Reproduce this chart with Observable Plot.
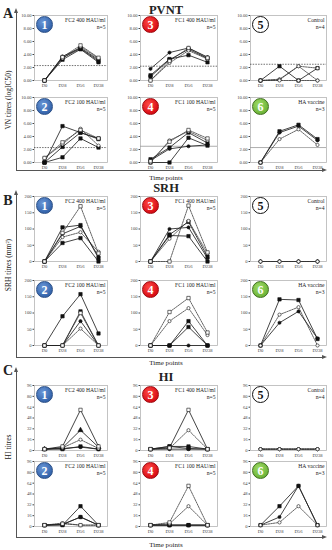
<!DOCTYPE html>
<html><head><meta charset="utf-8">
<script src="https://cdn.jsdelivr.net/npm/d3@7"></script>
<script src="https://cdn.jsdelivr.net/npm/@observablehq/plot@0.6"></script>
<style>
body{margin:0;background:#fff;}
#fig{position:relative;width:332px;height:550px;overflow:hidden;font-family:"Liberation Serif",serif;color:#222;}
.panel{position:absolute;}
.t{position:absolute;white-space:nowrap;transform:translate(-50%,-50%);line-height:1;}
.ln{position:absolute;background:#555;}
.arR{position:absolute;width:0;height:0;border-top:2.5px solid transparent;border-bottom:2.5px solid transparent;border-left:5px solid #555;}
.arU{position:absolute;width:0;height:0;border-left:2.5px solid transparent;border-right:2.5px solid transparent;border-bottom:5px solid #555;}
.badge{position:absolute;width:17px;height:17px;border-radius:50%;box-sizing:border-box;display:flex;align-items:center;justify-content:center;font-weight:bold;font-size:12px;line-height:1;}
</style></head><body><div id="fig"></div>
<script>
// ---------- data ----------
const timepoints = ["D0", "D28", "D56", "D238"];
const groupNames = ["FC2 400 HAU/ml", "FC2 100 HAU/ml", "FC1 400 HAU/ml", "FC1 100 HAU/ml", "Control", "HA vaccine"];
const groupSizes = [5, 5, 5, 5, 4, 3];
const sectionLetters = ["A", "B", "C"];
const sectionTitles = ["PVNT", "SRH", "HI"];
const yTitles = ["VN titres (logIC50)", "SRH titres (mm²)", "HI titres"];
const pvntTicks = [0, 2, 4, 6, 8, 10];
const srhTicks = [0, 50, 100, 150, 200];
const hiTicks = [0, 16, 32, 48, 64, 80, 96];
const pvntCutoff = [2.3, 2.3, 2.2, 2.5, 2.5, 2.3];

// marker kinds: sq filled square, ci filled circle, tr filled triangle (solid lines)
// oc open circle, os open square (dashed lines), OS open square (solid line)
const pvntKinds = [
  ["sq","sq","ci","oc","os"], ["sq","sq","sq","oc","os"], ["ci","sq","sq","oc","os"],
  ["ci","sq","sq","oc","os"], ["sq","oc","oc","oc"], ["sq","ci","oc"]];
const pvntValues = [
  [[0,3.2,4.8,2.8],[0,3.5,4.9,3.0],[0,3.7,5.0,3.2],[0,3.4,5.2,3.4],[0,3.6,5.4,3.5]],
  [[0,5.6,4.6,3.7],[0,0.8,3.7,2.3],[0,2.4,4.6,3.6],[0.7,2.8,5.2,2.6],[0.7,3.1,5.0,3.7]],
  [[1.8,4.3,5.0,3.6],[0.8,3.3,3.9,2.8],[0.6,3.2,4.8,3.4],[0,2.7,4.6,3.3],[0,3.0,5.0,3.5]],
  [[0.3,2.1,2.5,2.7],[0.5,2.3,4.6,3.0],[0,0,3.8,2.6],[0,3.4,4.8,3.4],[0.2,3.2,5.0,3.7]],
  [[0,2.2,0,1.9],[0,0.2,2.2,0],[0,0.1,2.2,1.9],[0,0,0,0]],
  [[0,4.8,5.8,3.6],[0,4.6,5.6,3.4],[0,3.6,5.1,2.7]]];

const srhKinds = [
  ["sq","sq","ci","oc","os"], ["sq","sq","ci","oc","os"], ["ci","sq","sq","oc","os"],
  ["sq","sq","ci","oc","os"], ["oc","oc","oc","oc"], ["sq","ci","oc"]];
const srhValues = [
  [[0,105,112,10],[0,57,72,0],[0,85,108,15],[0,75,90,30],[0,88,170,25]],
  [[0,90,158,37],[0,0,105,0],[0,0,75,0],[0,0,52,0],[0,0,100,0]],
  [[0,100,105,10],[0,80,78,0],[0,83,122,15],[0,70,125,25],[0,0,172,28]],
  [[0,0,75,0],[0,0,57,0],[0,0,0,0],[0,75,115,32],[0,103,146,40]],
  [[0,0,0,0],[0,0,0,0],[0,0,0,0],[0,0,0,0]],
  [[0,142,140,20],[0,70,105,22],[0,95,118,0]]];

const hiKinds = [
  ["OS","tr","oc","sq","ci"], ["sq","sq","ci","oc","os"], ["OS","oc","sq","sq","ci"],
  ["os","oc","sq","ci","sq"], ["oc","oc","oc","oc"], ["sq","ci","oc"]];
const hiValues = [
  [[2,6,60,6],[2,4,30,5],[2,4,16,3],[2,2,6,2],[2,3,5,2]],
  [[2,2,30,2],[2,3,14,2],[2,3,14,2],[2,5,2,2],[2,4,2,2]],
  [[2,4,60,2],[2,3,30,2],[2,6,6,2],[2,6,3,2],[2,2,2,2]],
  [[2,6,60,2],[2,4,30,2],[2,2,2,2],[2,2,2,2],[2,2,2,2]],
  [[2,2,2,2],[2,2,2,2],[2,2,2,2],[2,2,2,2]],
  [[2,30,60,2],[2,14,60,2],[2,6,30,2]]];

// ---------- styles / layout ----------
const badgeBg = [
  "radial-gradient(circle at 40% 35%, #6b98d8, #3565ac 70%)",
  "radial-gradient(circle at 40% 35%, #6b98d8, #3565ac 70%)",
  "radial-gradient(circle at 40% 35%, #ff4a45, #d90d15 70%)",
  "radial-gradient(circle at 40% 35%, #ff4a45, #d90d15 70%)",
  "#ffffff",
  "radial-gradient(circle at 40% 35%, #9fdc66, #6fb53a 70%)"];
const badgeBorder = ["#2b4f86","#2b4f86","#9c0a10","#9c0a10","#111","#3f6e1f"];
const colX = [34, 140, 250], colW = [73, 77, 76];
const sectionRows = [[15, 97], [196, 280], [385, 461]];
const panelH = 65;
const ML = 22, MR = 2, MT = 2, MB = 11;

const fig = document.getElementById("fig");
function addText(txt, x, y, css) {
  const d = document.createElement("div");
  d.className = "t"; d.textContent = txt;
  d.style.left = x + "px"; d.style.top = y + "px";
  Object.assign(d.style, css || {});
  fig.appendChild(d);
}
function addDiv(cls, css, txt) {
  const d = document.createElement("div"); d.className = cls;
  Object.assign(d.style, css);
  if (txt != null) d.textContent = txt;
  fig.appendChild(d);
}

const symDefs = {sq:["square","#111"], ci:["circle","#111"], tr:["triangle","#111"],
                 oc:["circle","#fff"], os:["square","#fff"], OS:["square","#fff"]};
const isDashed = k => k === "oc" || k === "os";

function makePanel(n, values, kinds, ticks, fmt, cutoff, cutoffSolid, w) {
  const rows = [];
  values.forEach((s, i) => s.forEach((v, j) => rows.push({id: i, kind: kinds[i], t: timepoints[j], v})));
  const marks = [Plot.frame({stroke: "#b5b5b5", strokeWidth: 0.8})];
  if (cutoff != null) marks.push(Plot.ruleY([cutoff], cutoffSolid
      ? {stroke: "#999", strokeWidth: 0.8}
      : {stroke: "#333", strokeWidth: 0.7, strokeDasharray: "1.5,1.2"}));
  marks.push(Plot.line(rows.filter(d => isDashed(d.kind)), {x: "t", y: "v", z: "id", stroke: "#333", strokeWidth: 0.75, strokeDasharray: "1.6,1"}));
  marks.push(Plot.line(rows.filter(d => !isDashed(d.kind)), {x: "t", y: "v", z: "id", stroke: "#222", strokeWidth: 0.85}));
  for (const [k, [sym, fill]] of Object.entries(symDefs)) {
    const sub = rows.filter(d => d.kind === k);
    if (sub.length) marks.push(Plot.dot(sub, {x: "t", y: "v", symbol: sym, fill, stroke: "#111", strokeWidth: 0.6, r: sym === "circle" ? 1.6 : 1.9}));
  }
  marks.push(Plot.text([groupNames[n-1] + "\nn=" + groupSizes[n-1]], {frameAnchor: "top-right", dx: -2, dy: 2, text: d => d, textAnchor: "end", lineAnchor: "top", fontSize: 5.6, lineHeight: 1.2, fill: "#222"}));
  return Plot.plot({
    width: ML + w + MR, height: MT + panelH + MB,
    marginLeft: ML, marginRight: MR, marginTop: MT, marginBottom: MB,
    style: {fontFamily: "'Liberation Serif', serif", fontSize: "4.6px", color: "#444", background: "transparent", overflow: "visible"},
    x: {type: "point", domain: timepoints, padding: 0.45, label: null, tickSize: 0, tickPadding: 3},
    y: {domain: [ticks[0], ticks[ticks.length - 1]], ticks, tickFormat: fmt, tickSize: 1.5, tickPadding: 1.5, label: null},
    marks
  });
}

const sections = [
  {values: pvntValues, kinds: pvntKinds, ticks: pvntTicks, fmt: d3.format(".2f"), cutoff: pvntCutoff},
  {values: srhValues, kinds: srhKinds, ticks: srhTicks, fmt: d3.format("d"), cutoff: null},
  {values: hiValues, kinds: hiKinds, ticks: hiTicks, fmt: d3.format("d"), cutoff: null}];

// section decoration geometry
const secTop = [12, 194, 371], secBottom = [170, 357, 537];
const titleY = [10, 188, 377], letterY = [14, 201, 371], timeY = [178, 363, 545], yTitleY = [100, 265, 447];

sections.forEach((sec, si) => {
  for (let n = 1; n <= 6; n++) {
    const col = Math.floor((n - 1) / 2), row = (n - 1) % 2;
    const svg = makePanel(n, sec.values[n-1], sec.kinds[n-1], sec.ticks, sec.fmt,
      sec.cutoff ? sec.cutoff[n-1] : null, n === 4 || n === 6, colW[col]);
    const holder = document.createElement("div");
    holder.className = "panel";
    holder.style.left = (colX[col] - ML) + "px";
    holder.style.top = (sectionRows[si][row] - MT) + "px";
    holder.appendChild(svg);
    fig.appendChild(holder);
    addDiv("badge", {
      left: (colX[col] + 2) + "px", top: (sectionRows[si][row] + 1) + "px",
      background: badgeBg[n-1], border: (n === 5 ? 1.3 : 0.8) + "px solid " + badgeBorder[n-1],
      color: n === 5 ? "#111" : "#fff"
    }, String(n));
  }
  // L-shaped bracket with arrows
  addDiv("ln", {left: "16px", top: secTop[si] + "px", width: "0.8px", height: (secBottom[si] - secTop[si]) + "px"});
  addDiv("ln", {left: "16px", top: secBottom[si] + "px", width: "308px", height: "0.8px"});
  addDiv("arR", {left: "322px", top: (secBottom[si] - 2.1) + "px"});
  addDiv("arU", {left: "14px", top: (secTop[si] - 4) + "px"});
  addText(sectionLetters[si], 8, letterY[si], {fontSize: "14px", fontWeight: "bold"});
  addText(sectionTitles[si], 166, titleY[si], {fontSize: "12.5px", fontWeight: "bold"});
  addText("Time points", 166, timeY[si], {fontSize: "7px"});
  addText(yTitles[si], 9, yTitleY[si], {fontSize: "7.5px", transform: "translate(-50%,-50%) rotate(-90deg)"});
});
</script></body></html>
